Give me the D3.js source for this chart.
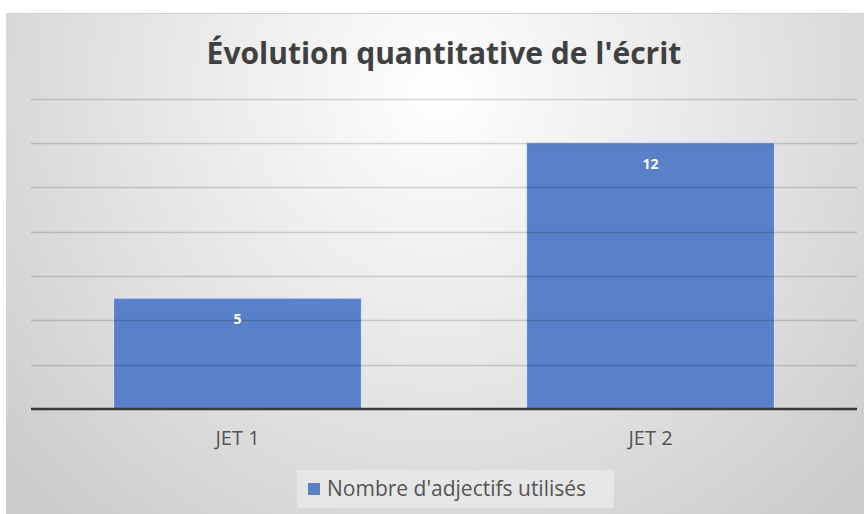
<!DOCTYPE html>
<html>
  <head>
    <script src="https://cdnjs.cloudflare.com/ajax/libs/d3/7.8.5/d3.min.js"></script>
  </head>
  <style type="text/css">
    body { margin: 0; background: #fff; }
    svg { display: block; }
  </style>
  <body>
    <div id="chart"></div>
  <script type="text/javascript">

    // data
    var categories = ["JET 1", "JET 2"];
    var values = [5, 12];
    var seriesName = "Nombre d'adjectifs utilisés";
    var yTicks = [2, 4, 6, 8, 10, 12, 14];

    var width = 864;
    var height = 514;

    var svg = d3.select("#chart")
      .append("svg")
        .attr("width", width)
        .attr("height", height);

    var defs = svg.append("defs");
    var grad = defs.append("radialGradient")
        .attr("id", "bg")
        .attr("gradientUnits", "userSpaceOnUse")
        .attr("cx", 440).attr("cy", 90).attr("r", 560);
    grad.append("stop").attr("offset", "0%").attr("stop-color", "#ffffff");
    grad.append("stop").attr("offset", "55%").attr("stop-color", "#e4e4e4");
    grad.append("stop").attr("offset", "100%").attr("stop-color", "#cdcdcd");

    // chart area
    svg.append("rect")
        .attr("x", 6).attr("y", 13)
        .attr("width", width - 6).attr("height", height - 13)
        .attr("fill", "url(#bg)");
    svg.append("line")
        .attr("x1", 6).attr("x2", width).attr("y1", 13.5).attr("y2", 13.5)
        .attr("stroke", "#d0d0d0");

    var x = d3.scaleBand()
        .domain(categories)
        .range([31, 857])
        .paddingInner(0.4)
        .paddingOuter(0.2);

    var y = d3.scaleLinear()
        .domain([0, 14])
        .range([409, 98.5]);

    // bars
    svg.append("g").selectAll("rect")
        .data(values)
        .enter()
        .append("rect")
        .attr("x", function(d, i) { return x(categories[i]); })
        .attr("y", function(d) { return y(d); })
        .attr("width", x.bandwidth())
        .attr("height", function(d) { return y(0) - y(d); })
        .attr("fill", "#5981c9")
        .attr("stroke", "#dce6f5")
        .attr("stroke-width", 1);

    // gridlines (drawn over bars, semi transparent)
    svg.append("g").selectAll("line")
        .data(yTicks)
        .enter()
        .append("line")
        .attr("x1", 31).attr("x2", 857)
        .attr("y1", function(d) { return Math.round(y(d)) + 0.5; })
        .attr("y2", function(d) { return Math.round(y(d)) + 0.5; })
        .attr("stroke", "#000")
        .attr("stroke-opacity", 0.15)
        .attr("stroke-width", 1.3);

    // x axis
    var xAxis = svg.append("g")
        .attr("transform", "translate(0," + y(0) + ")")
        .call(d3.axisBottom(x).tickSize(0).tickPadding(22));
    xAxis.select(".domain")
        .attr("d", "M31,0H857")
        .attr("stroke", "#3a3a3a")
        .attr("stroke-width", 2.5);
    xAxis.selectAll("text")
        .attr("font-family", "'Open Sans', sans-serif")
        .attr("font-size", 20)
        .attr("fill", "#555");

    // value labels
    svg.append("g").selectAll("text")
        .data(values)
        .enter()
        .append("text")
        .attr("x", function(d, i) { return x(categories[i]) + x.bandwidth() / 2; })
        .attr("y", function(d) { return y(d) + 26; })
        .attr("text-anchor", "middle")
        .attr("font-family", "'Open Sans', sans-serif")
        .attr("font-weight", "bold")
        .attr("font-size", 14)
        .attr("fill", "#fff")
        .text(function(d) { return d; });

    // title
    svg.append("text")
        .attr("x", 444).attr("y", 64)
        .attr("text-anchor", "middle")
        .attr("font-family", "'Open Sans', sans-serif")
        .attr("font-weight", "bold")
        .attr("font-size", 30)
        .attr("fill", "#404040")
        .text("Évolution quantitative de l'écrit");

    // legend
    var legend = svg.append("g");
    legend.append("rect")
        .attr("x", 297).attr("y", 470)
        .attr("width", 317).attr("height", 38)
        .attr("fill", "#e6e6e6");
    legend.append("rect")
        .attr("x", 308).attr("y", 483)
        .attr("width", 12).attr("height", 12)
        .attr("fill", "#5981c9");
    legend.append("text")
        .attr("x", 327).attr("y", 496)
        .attr("font-family", "'Open Sans', sans-serif")
        .attr("font-size", 21)
        .attr("fill", "#555")
        .text(seriesName);

  </script>
  </body>
</html>
